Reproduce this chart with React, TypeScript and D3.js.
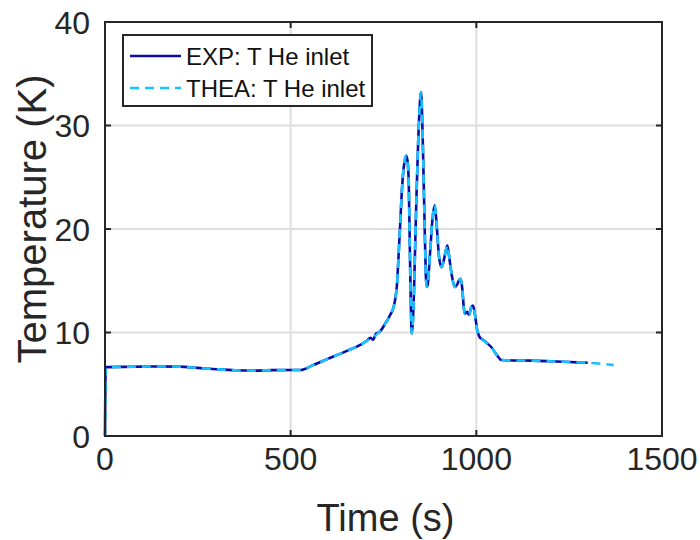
import React from "react";
import * as d3 from "d3";

const expTime = [0, 2, 50, 100, 150, 200, 250, 300, 350, 400, 450, 500, 527, 560, 600, 650, 690, 705, 715, 722, 730, 737, 745, 755, 762, 768, 775, 781, 786, 790, 795, 799, 804, 811, 815, 818, 821, 824, 826, 829, 832, 835, 839, 843, 847, 851, 854, 857, 861, 864, 866, 869, 871, 876, 882, 888, 893, 899, 906, 912, 917, 922, 928, 934, 942, 948, 954, 958, 962, 966, 969, 975, 980, 986, 991, 996, 1002, 1005, 1010, 1018, 1025, 1031, 1040, 1050, 1060, 1067, 1100, 1150, 1200, 1250, 1300];
const expTemp = [0, 6.65, 6.68, 6.7, 6.72, 6.7, 6.58, 6.45, 6.35, 6.32, 6.36, 6.38, 6.38, 6.85, 7.45, 8.2, 8.85, 9.2, 9.5, 9.3, 9.9, 10.0, 10.3, 10.9, 11.3, 11.7, 12.2, 13.1, 14.5, 17, 20.5, 23.4, 25.8, 27.1, 26.5, 24.5, 18, 12, 9.9, 11, 13.8, 18, 23.4, 28, 31.5, 33.2, 31, 26.6, 20, 15.5, 14.4, 14.6, 15.4, 18, 21, 22.3, 20.5, 17.5, 16.3, 16.9, 17.8, 18.4, 17, 15.5, 14.4, 14.6, 15.1, 15.2, 14.3, 12.5, 11.8, 12.0, 11.7, 12.4, 12.6, 11.8, 10.3, 9.9, 9.5, 9.3, 9.1, 8.9, 8.6, 8.1, 7.6, 7.35, 7.3, 7.28, 7.22, 7.15, 7.08];

const theaTime = [0, 2, 50, 100, 150, 200, 250, 300, 350, 400, 450, 500, 527, 560, 600, 650, 690, 710, 725, 737, 755, 768, 781, 786, 790, 795, 799, 804, 811, 815, 818, 821, 824, 826, 829, 832, 835, 839, 843, 847, 851, 854, 857, 861, 864, 866, 871, 876, 882, 888, 893, 899, 906, 912, 917, 922, 928, 934, 942, 950, 958, 962, 966, 969, 975, 980, 986, 991, 996, 1002, 1005, 1010, 1020, 1031, 1040, 1050, 1060, 1067, 1100, 1150, 1200, 1250, 1300, 1370];
const theaTemp = [0, 6.65, 6.68, 6.7, 6.72, 6.7, 6.58, 6.45, 6.35, 6.32, 6.36, 6.38, 6.38, 6.85, 7.45, 8.2, 8.85, 9.3, 9.6, 10.0, 10.9, 11.7, 13.1, 14.5, 17, 20.5, 23.4, 25.8, 27.1, 26.5, 24.5, 18, 12, 9.9, 11, 13.8, 18, 23.4, 28, 31.5, 33.2, 31, 26.6, 20, 15.5, 14.4, 15.4, 18, 21, 22.3, 20.5, 17.5, 16.3, 16.9, 17.8, 18.4, 17, 15.5, 14.4, 14.8, 15.2, 14.3, 12.5, 11.8, 12.0, 11.7, 12.4, 12.6, 11.8, 10.3, 9.9, 9.5, 9.2, 8.9, 8.6, 8.1, 7.6, 7.35, 7.3, 7.28, 7.22, 7.15, 7.08, 6.85];

const xTicks = [0, 500, 1000, 1500];
const yTicks = [0, 10, 20, 30, 40];
const seriesNames = ["EXP: T He inlet", "THEA: T He inlet"];

const W = 700, H = 540;
const L = 105, R = 662, T = 22, B = 436;
const FONT = "'Liberation Sans', Arial, Helvetica, sans-serif";
const EXP_COLOR = "#0a0aa8";
const THEA_COLOR = "#14c4ff";
const AXIS = "#262626";

export default function App() {
  const x = d3.scaleLinear().domain([0, 1500]).range([L, R]);
  const y = d3.scaleLinear().domain([0, 40]).range([B, T]);
  const line = d3.line<[number, number]>().x(d => x(d[0])).y(d => y(d[1])).curve(d3.curveMonotoneX);
  const expPath = line(expTime.map((t, i) => [t, expTemp[i]] as [number, number])) || "";
  const theaPath = line(theaTime.map((t, i) => [t, theaTemp[i]] as [number, number])) || "";
  const tick = 6;
  return (
    <svg width={W} height={H} style={{ position: "absolute", left: 0, top: 0, background: "#fff" }}>
      <rect x={0} y={0} width={W} height={H} fill="#fff" />
      {xTicks.map(v => (
        <line key={"gx" + v} x1={x(v)} x2={x(v)} y1={T} y2={B} stroke="#dedede" strokeWidth={2} />
      ))}
      {yTicks.map(v => (
        <line key={"gy" + v} x1={L} x2={R} y1={y(v)} y2={y(v)} stroke="#dedede" strokeWidth={2} />
      ))}
      <path d={expPath} fill="none" stroke={EXP_COLOR} strokeWidth={2.6} strokeLinejoin="round" />
      <path d={theaPath} fill="none" stroke={THEA_COLOR} strokeWidth={2.6} strokeDasharray="9,6" strokeLinejoin="round" />
      <rect x={L} y={T} width={R - L} height={B - T} fill="none" stroke={AXIS} strokeWidth={2} />
      {xTicks.map(v => (
        <g key={"tx" + v}>
          <line x1={x(v)} x2={x(v)} y1={B} y2={B - tick} stroke={AXIS} strokeWidth={2} />
          <line x1={x(v)} x2={x(v)} y1={T} y2={T + tick} stroke={AXIS} strokeWidth={2} />
          <text x={x(v)} y={470} textAnchor="middle" fontFamily={FONT} fontSize={32} fill={AXIS}>{v}</text>
        </g>
      ))}
      {yTicks.map(v => (
        <g key={"ty" + v}>
          <line x1={L} x2={L + tick} y1={y(v)} y2={y(v)} stroke={AXIS} strokeWidth={2} />
          <line x1={R} x2={R - tick} y1={y(v)} y2={y(v)} stroke={AXIS} strokeWidth={2} />
          <text x={90} y={y(v) + 11.5} textAnchor="end" fontFamily={FONT} fontSize={32} fill={AXIS}>{v}</text>
        </g>
      ))}
      <text x={(L + R) / 2 + 2} y={531} textAnchor="middle" fontFamily={FONT} fontSize={38} fill={AXIS}>Time (s)</text>
      <text transform={`translate(46,${(T + B) / 2 - 10}) rotate(-90)`} textAnchor="middle" fontFamily={FONT} fontSize={40} fill={AXIS}>Temperature (K)</text>
      <g>
        <rect x={123} y={35} width={249} height={71} fill="#fff" stroke={AXIS} strokeWidth={2} />
        <line x1={130} x2={181} y1={56} y2={56} stroke={EXP_COLOR} strokeWidth={2.6} />
        <text x={186} y={65} fontFamily={FONT} fontSize={24} fill="#111">{seriesNames[0]}</text>
        <line x1={130} x2={181} y1={88} y2={88} stroke={THEA_COLOR} strokeWidth={2.6} strokeDasharray="9,6" />
        <text x={186} y={97} fontFamily={FONT} fontSize={24} fill="#111">{seriesNames[1]}</text>
      </g>
    </svg>
  );
}
